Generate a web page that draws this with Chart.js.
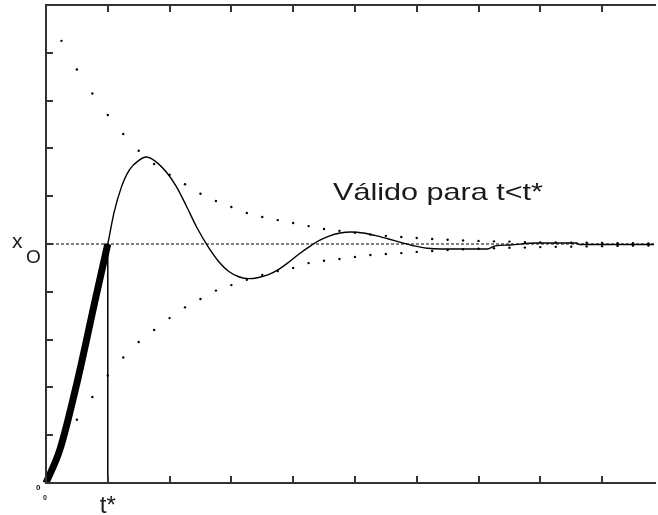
<!DOCTYPE html>
<html lang="pt-br">
<head>
    <meta charset="UTF-8">
    <title>Resposta ao degrau</title>
    <script src="https://cdn.jsdelivr.net/npm/chart.js"></script>
    <style>
        html, body { margin: 0; padding: 0; background: #fff; overflow: hidden; }
        canvas { display: block; }
    </style>
</head>
<body>
    <canvas id="grafico" width="658" height="515"></canvas>

    <script>
        // valores (t em unidades de t*, x em unidades de x0)
        const tempoResposta = [0, 0.225, 0.5, 0.8, 1.0, 1.1, 1.22, 1.35, 1.51, 1.62, 1.75, 1.95, 2.11, 2.27, 2.44, 2.62,
            2.8, 2.96, 3.12, 3.28, 3.44, 3.6, 3.76, 3.92, 4.08, 4.24, 4.41, 4.57, 4.76, 4.94, 5.13, 5.32, 5.53,
            5.74, 5.96, 6.17, 6.4, 7.14, 7.27, 7.51, 7.94, 8.59, 8.63, 9.84];
        const valorResposta = [0, 0.14, 0.418, 0.77, 1.0, 1.13, 1.238, 1.31, 1.351, 1.364, 1.35, 1.3, 1.24, 1.16, 1.07, 0.99,
            0.925, 0.885, 0.863, 0.855, 0.86, 0.872, 0.893, 0.922, 0.955, 0.985, 1.013, 1.032, 1.046, 1.05, 1.046, 1.036, 1.022,
            1.007, 0.992, 0.982, 0.979, 0.979, 0.992, 0.996, 1.004, 1.004, 0.998, 0.998];

        const tempoEnvoltoria = [0.25, 0.5, 0.75, 1, 1.25, 1.5, 1.75, 2, 2.25, 2.5, 2.75, 3, 3.25, 3.5, 3.75, 4, 4.25, 4.5, 4.75,
            5, 5.25, 5.5, 5.75, 6, 6.25, 6.5, 6.75, 7, 7.25, 7.5, 7.75, 8, 8.25, 8.5, 8.75, 9, 9.25, 9.5, 9.75];
        const envoltoriaSup = [1.85, 1.73, 1.63, 1.54, 1.46, 1.39, 1.335, 1.29, 1.25, 1.21, 1.18, 1.155, 1.13, 1.113, 1.1, 1.088,
            1.075, 1.063, 1.055, 1.047, 1.04, 1.034, 1.029, 1.025, 1.021, 1.018, 1.015, 1.013, 1.011, 1.01, 1.008, 1.007,
            1.006, 1.005, 1.005, 1.004, 1.003, 1.003, 1.002];
        const envoltoriaInf = [0.15, 0.265, 0.36, 0.45, 0.525, 0.59, 0.64, 0.69, 0.735, 0.77, 0.805, 0.828, 0.85, 0.87, 0.887,
            0.9, 0.92, 0.93, 0.937, 0.946, 0.954, 0.958, 0.962, 0.967, 0.971, 0.975, 0.978, 0.98, 0.982, 0.984, 0.985,
            0.987, 0.988, 0.989, 0.99, 0.991, 0.992, 0.993, 0.994];

        const x0 = 1;
        const tEstrela = 1;
        const ticksX = [1, 2, 3, 4, 5, 6, 7, 8, 9];
        const ticksY = [0.2, 0.4, 0.6, 0.8, 1.0, 1.2, 1.4, 1.6, 1.8];

        const pontos = (ts, vs) => ts.map((t, i) => ({ x: t, y: vs[i] }));
        const resposta = pontos(tempoResposta, valorResposta);
        const subida = resposta.filter(p => p.x <= tEstrela);

        // moldura, marcas dos eixos e textos
        const moldura = {
            id: 'moldura',
            afterDatasetsDraw(chart) {
                const { ctx, chartArea: a, scales: { x, y } } = chart;
                ctx.save();
                ctx.strokeStyle = '#333';
                ctx.lineWidth = 2;
                ctx.beginPath();
                ctx.moveTo(a.right + 2, a.top);
                ctx.lineTo(a.left, a.top);
                ctx.lineTo(a.left, a.bottom);
                ctx.lineTo(a.right + 2, a.bottom);
                ctx.stroke();

                ctx.beginPath();
                ticksX.forEach(t => {
                    const px = Math.round(x.getPixelForValue(t));
                    ctx.moveTo(px, a.top); ctx.lineTo(px, a.top + 7);
                    ctx.moveTo(px, a.bottom); ctx.lineTo(px, a.bottom - 7);
                });
                ticksY.forEach(v => {
                    const py = Math.round(y.getPixelForValue(v));
                    ctx.moveTo(a.left, py); ctx.lineTo(a.left + 7, py);
                });
                ctx.stroke();

                ctx.fillStyle = '#1a1a1a';
                ctx.textBaseline = 'alphabetic';

                // legenda do trecho válido, esticada como na figura
                const texto = 'Válido para t<t*';
                ctx.font = '24px "Liberation Sans", Arial, sans-serif';
                const larg = ctx.measureText(texto).width;
                ctx.save();
                ctx.translate(333, 200);
                ctx.scale(210 / larg, 1);
                ctx.fillText(texto, 0, 0);
                ctx.restore();

                // x0
                const py0 = y.getPixelForValue(x0);
                ctx.font = '21px "Liberation Sans", Arial, sans-serif';
                ctx.fillText('x', 12, py0 + 4);
                ctx.font = '19px "Liberation Sans", Arial, sans-serif';
                ctx.fillText('O', 26, py0 + 19);

                // t*
                ctx.font = '24px "Liberation Sans", Arial, sans-serif';
                ctx.fillText('t*', x.getPixelForValue(tEstrela) - 8, 513);

                // zeros pequenos
                ctx.font = 'bold 8px "Liberation Sans", Arial, sans-serif';
                ctx.fillText('0', 36, 490);
                ctx.font = 'bold 7px "Liberation Sans", Arial, sans-serif';
                ctx.fillText('0', 43, 500);
                ctx.restore();
            }
        };

        const ctxGrafico = document.getElementById('grafico').getContext('2d');

        new Chart(ctxGrafico, {
            type: 'scatter',
            data: {
                datasets: [
                    {
                        data: [{ x: 0, y: x0 }, { x: 9.84, y: x0 }],
                        showLine: true,
                        borderColor: '#000',
                        borderWidth: 1,
                        borderDash: [3, 2],
                        pointRadius: 0
                    },
                    {
                        data: pontos(tempoEnvoltoria, envoltoriaSup),
                        pointRadius: 1.2,
                        backgroundColor: '#000',
                        borderWidth: 0
                    },
                    {
                        data: pontos(tempoEnvoltoria, envoltoriaInf),
                        pointRadius: 1.2,
                        backgroundColor: '#000',
                        borderWidth: 0
                    },
                    {
                        data: resposta,
                        showLine: true,
                        borderColor: '#000',
                        borderWidth: 1.4,
                        pointRadius: 0,
                        cubicInterpolationMode: 'monotone'
                    },
                    {
                        data: subida,
                        showLine: true,
                        borderColor: '#000',
                        borderWidth: 7,
                        pointRadius: 0,
                        cubicInterpolationMode: 'monotone',
                        clip: false
                    },
                    {
                        data: [{ x: tEstrela, y: 0 }, { x: tEstrela, y: x0 }],
                        showLine: true,
                        borderColor: '#000',
                        borderWidth: 1.5,
                        pointRadius: 0
                    }
                ]
            },
            options: {
                responsive: false,
                animation: false,
                layout: { padding: { left: 46, top: 5, right: 0, bottom: 32 } },
                scales: {
                    x: { type: 'linear', min: 0, max: 9.84, display: false },
                    y: { min: 0, max: 2, display: false }
                },
                plugins: {
                    legend: { display: false },
                    tooltip: { enabled: false }
                }
            },
            plugins: [moldura]
        });
    </script>
</body>
</html>
